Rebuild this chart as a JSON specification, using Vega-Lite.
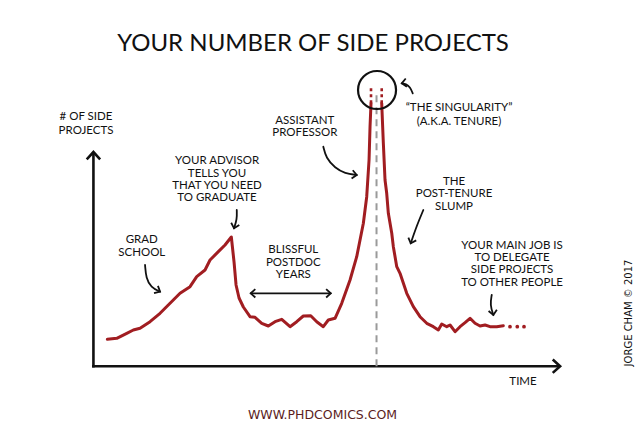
{
  "$schema": "https://vega.github.io/schema/vega-lite/v6.json",
  "width": 640,
  "height": 439,
  "autosize": {"type": "fit", "contains": "padding"},
  "padding": 0,
  "background": "white",
  "config": {"view": {"stroke": null}},
  "encoding": {
    "x": {"field": "t", "type": "quantitative", "axis": null, "scale": {"domain": [-20, 117], "nice": false, "zero": false}},
    "y": {"field": "p", "type": "quantitative", "axis": null, "scale": {"domain": [-34, 171], "nice": false, "zero": false}}
  },
  "layer": [
    {
      "data": {"values": [
        {"ax": "y", "t": 0, "p": -0.6},
        {"ax": "y", "t": 0, "p": 100},
        {"ax": "x", "t": -0.3, "p": 0},
        {"ax": "x", "t": 99.9, "p": 0}
      ]},
      "mark": {"type": "line", "color": "#111", "strokeWidth": 2.6},
      "encoding": {"detail": {"field": "ax"}}
    },
    {
      "data": {"values": [
        {"t": 0, "p": 100, "ang": 0},
        {"t": 99.9, "p": 0, "ang": 90}
      ]},
      "mark": {"type": "point", "shape": "M-1,1.1L0,0L1,1.1", "filled": false, "stroke": "#111", "strokeWidth": 2.6, "size": 180, "opacity": 1},
      "encoding": {"angle": {"field": "ang", "type": "quantitative", "scale": null}}
    },
    {
      "data": {"values": [{"t": 60.6, "p": 0, "p2": 127.6}]},
      "mark": {"type": "rule", "color": "#9a9a9a", "strokeWidth": 2, "strokeDash": [7, 5]},
      "encoding": {"y2": {"field": "p2"}}
    },
    {
      "data": {"values": [
        {"seg": "L", "t": 2.98, "p": 12.56}, {"seg": "L", "t": 4.99, "p": 13.03}, {"seg": "L", "t": 7.13, "p": 15.36},
        {"seg": "L", "t": 8.54, "p": 16.9}, {"seg": "L", "t": 9.98, "p": 17.7}, {"seg": "L", "t": 12.12, "p": 20.78},
        {"seg": "L", "t": 14.26, "p": 24.7}, {"seg": "L", "t": 16.4, "p": 29.37}, {"seg": "L", "t": 18.54, "p": 34.04},
        {"seg": "L", "t": 20.68, "p": 37.12}, {"seg": "L", "t": 22.11, "p": 41.79}, {"seg": "L", "t": 23.89, "p": 44.92},
        {"seg": "L", "t": 24.96, "p": 49.59}, {"seg": "L", "t": 26.74, "p": 53.47}, {"seg": "L", "t": 28.17, "p": 56.6},
        {"seg": "L", "t": 29.52, "p": 60.33}, {"seg": "L", "t": 30.1, "p": 48.66}, {"seg": "L", "t": 30.53, "p": 37.92},
        {"seg": "L", "t": 31.17, "p": 31.85}, {"seg": "L", "t": 32.09, "p": 27.64}, {"seg": "L", "t": 33.52, "p": 23.11},
        {"seg": "L", "t": 34.59, "p": 22.83}, {"seg": "L", "t": 36.03, "p": 20.03}, {"seg": "L", "t": 37.44, "p": 18.77},
        {"seg": "L", "t": 38.87, "p": 20.78}, {"seg": "L", "t": 40.31, "p": 21.9}, {"seg": "L", "t": 42.09, "p": 18.44},
        {"seg": "L", "t": 43.52, "p": 20.78}, {"seg": "L", "t": 44.93, "p": 23.44}, {"seg": "L", "t": 46.52, "p": 23.58},
        {"seg": "L", "t": 47.8, "p": 20.78}, {"seg": "L", "t": 49.21, "p": 18.44}, {"seg": "L", "t": 50.28, "p": 21.57},
        {"seg": "L", "t": 51.72, "p": 22.37}, {"seg": "L", "t": 53.15, "p": 29.37}, {"seg": "L", "t": 54.93, "p": 40.25},
        {"seg": "L", "t": 56.36, "p": 51.13}, {"seg": "L", "t": 57.78, "p": 66.73}, {"seg": "L", "t": 58.5, "p": 79.15},
        {"seg": "L", "t": 59.0, "p": 96.29}, {"seg": "L", "t": 59.21, "p": 111.84}, {"seg": "L", "t": 59.42, "p": 122.76},
        {"seg": "R", "t": 61.71, "p": 122.76}, {"seg": "R", "t": 62.06, "p": 104.09}, {"seg": "R", "t": 62.42, "p": 86.95},
        {"seg": "R", "t": 62.78, "p": 80.74}, {"seg": "R", "t": 63.13, "p": 71.4}, {"seg": "R", "t": 63.86, "p": 62.06},
        {"seg": "R", "t": 64.2, "p": 55.8}, {"seg": "R", "t": 64.93, "p": 46.46}, {"seg": "R", "t": 65.63, "p": 43.38},
        {"seg": "R", "t": 67.07, "p": 34.04}, {"seg": "R", "t": 68.48, "p": 27.78}, {"seg": "R", "t": 69.91, "p": 23.11},
        {"seg": "R", "t": 71.35, "p": 20.03}, {"seg": "R", "t": 72.76, "p": 18.44}, {"seg": "R", "t": 73.83, "p": 16.9},
        {"seg": "R", "t": 74.56, "p": 19.71}, {"seg": "R", "t": 75.63, "p": 18.44}, {"seg": "R", "t": 76.34, "p": 19.24},
        {"seg": "R", "t": 77.41, "p": 16.11}, {"seg": "R", "t": 78.48, "p": 18.44}, {"seg": "R", "t": 79.55, "p": 20.31},
        {"seg": "R", "t": 80.62, "p": 22.37}, {"seg": "R", "t": 81.69, "p": 20.03}, {"seg": "R", "t": 82.76, "p": 18.77},
        {"seg": "R", "t": 83.83, "p": 19.24}, {"seg": "R", "t": 84.9, "p": 18.44}, {"seg": "R", "t": 86.33, "p": 18.44},
        {"seg": "R", "t": 87.74, "p": 18.91}
      ]},
      "mark": {"type": "line", "color": "#a11d21", "strokeWidth": 3, "strokeJoin": "round", "strokeCap": "round"},
      "encoding": {"detail": {"field": "seg"}}
    },
    {
      "data": {"values": [
        {"seg": "dL", "t": 59.42, "p": 122.76}, {"seg": "dL", "t": 59.42, "p": 129.91},
        {"seg": "dR", "t": 61.71, "p": 122.76}, {"seg": "dR", "t": 61.71, "p": 129.91}
      ]},
      "mark": {"type": "line", "color": "#a11d21", "strokeWidth": 2.6, "strokeDash": [3, 3]},
      "encoding": {"detail": {"field": "seg"}}
    },
    {
      "data": {"values": [{"t": 89.17, "p": 18.44}, {"t": 90.73, "p": 18.44}, {"t": 92.17, "p": 18.44}]},
      "mark": {"type": "point", "filled": true, "color": "#a11d21", "size": 14, "opacity": 1}
    },
    {
      "data": {"values": [{"t": 60.71, "p": 128.98}]},
      "mark": {"type": "point", "shape": "circle", "filled": false, "stroke": "#111", "strokeWidth": 2.2, "size": 1444, "opacity": 1}
    },
    {
      "data": {"values": [
        {"a": "grad", "i": 0, "t": 11.05, "p": 47.26}, {"a": "grad", "i": 1, "t": 11.26, "p": 41.19}, {"a": "grad", "i": 2, "t": 12.33, "p": 36.75}, {"a": "grad", "i": 3, "t": 14.26, "p": 34.79},
        {"a": "adv", "i": 0, "t": 30.68, "p": 72.94}, {"a": "adv", "i": 1, "t": 30.74, "p": 68.74}, {"a": "adv", "i": 2, "t": 30.1, "p": 64.39},
        {"a": "post", "i": 0, "t": 33.67, "p": 34.04}, {"a": "post", "i": 1, "t": 50.8, "p": 34.04},
        {"a": "asst", "i": 0, "t": 49.21, "p": 102.5}, {"a": "asst", "i": 1, "t": 49.79, "p": 97.22}, {"a": "asst", "i": 2, "t": 51.72, "p": 92.55}, {"a": "asst", "i": 3, "t": 53.85, "p": 89.98}, {"a": "asst", "i": 4, "t": 56.36, "p": 89.28},
        {"a": "sing", "i": 0, "t": 68.35, "p": 127.43}, {"a": "sing", "i": 1, "t": 67.77, "p": 130.38}, {"a": "sing", "i": 2, "t": 66.92, "p": 131.78}, {"a": "sing", "i": 3, "t": 66.0, "p": 132.1},
        {"a": "slump", "i": 0, "t": 70.62, "p": 72.94}, {"a": "slump", "i": 1, "t": 69.27, "p": 65.93}, {"a": "slump", "i": 2, "t": 67.92, "p": 57.39},
        {"a": "job", "i": 0, "t": 85.26, "p": 33.25}, {"a": "job", "i": 1, "t": 84.9, "p": 28.58}, {"a": "job", "i": 2, "t": 85.61, "p": 23.91}
      ]},
      "mark": {"type": "line", "color": "#111", "strokeWidth": 1.8, "interpolate": "basis", "strokeCap": "round"},
      "encoding": {"detail": {"field": "a"}, "order": {"field": "i", "type": "quantitative"}}
    },
    {
      "data": {"values": [
        {"t": 14.26, "p": 34.79, "ang": 118},
        {"t": 30.1, "p": 64.39, "ang": 195},
        {"t": 33.67, "p": 34.04, "ang": 270},
        {"t": 50.8, "p": 34.04, "ang": 90},
        {"t": 56.36, "p": 89.28, "ang": 98},
        {"t": 66.0, "p": 132.1, "ang": 262},
        {"t": 67.92, "p": 57.39, "ang": 200},
        {"t": 85.61, "p": 23.91, "ang": 172}
      ]},
      "mark": {"type": "point", "shape": "M-1,1.1L0,0L1,1.1", "filled": false, "stroke": "#111", "strokeWidth": 1.8, "size": 70, "opacity": 1},
      "encoding": {"angle": {"field": "ang", "type": "quantitative", "scale": null}}
    },
    {
      "data": {"values": [{"t": 47.01, "p": 150.46, "label": "YOUR NUMBER OF SIDE PROJECTS"}]},
      "mark": {"type": "text", "font": "Lato", "fontSize": 24, "color": "#111", "align": "center", "baseline": "middle"},
      "encoding": {"text": {"field": "label"}}
    },
    {
      "data": {"values": [
        {"t": -1.59, "p": 116.37, "label": "# OF SIDE"},
        {"t": -1.59, "p": 109.6, "label": "PROJECTS"},
        {"t": 45.26, "p": 114.5, "label": "ASSISTANT"},
        {"t": 45.26, "p": 108.66, "label": "PROFESSOR"},
        {"t": 78.26, "p": 120.43, "label": "\u201cTHE SINGULARITY\u201d"},
        {"t": 78.26, "p": 114.17, "label": "(A.K.A. TENURE)"},
        {"t": 26.46, "p": 95.82, "label": "YOUR ADVISOR"},
        {"t": 26.46, "p": 89.98, "label": "TELLS YOU"},
        {"t": 26.46, "p": 84.15, "label": "THAT YOU NEED"},
        {"t": 26.46, "p": 78.31, "label": "TO GRADUATE"},
        {"t": 10.34, "p": 58.93, "label": "GRAD"},
        {"t": 10.34, "p": 52.72, "label": "SCHOOL"},
        {"t": 42.79, "p": 54.26, "label": "BLISSFUL"},
        {"t": 42.79, "p": 48.42, "label": "POSTDOC"},
        {"t": 42.79, "p": 42.59, "label": "YEARS"},
        {"t": 77.19, "p": 86.01, "label": "THE"},
        {"t": 77.19, "p": 80.27, "label": "POST-TENURE"},
        {"t": 77.19, "p": 74.53, "label": "SLUMP"},
        {"t": 89.61, "p": 56.12, "label": "YOUR MAIN JOB IS"},
        {"t": 89.61, "p": 50.42, "label": "TO DELEGATE"},
        {"t": 89.61, "p": 44.73, "label": "SIDE PROJECTS"},
        {"t": 89.61, "p": 39.03, "label": "TO OTHER PEOPLE"},
        {"t": 91.96, "p": -7.38, "label": "TIME"}
      ]},
      "mark": {"type": "text", "font": "Lato", "fontSize": 11.5, "color": "#111", "align": "center", "baseline": "middle"},
      "encoding": {"text": {"field": "label"}}
    },
    {
      "data": {"values": [{"t": 49.04, "p": -23.02, "label": "WWW.PHDCOMICS.COM"}]},
      "mark": {"type": "text", "font": "DejaVu Sans", "fontSize": 12.5, "color": "#5b1d1d", "align": "center", "baseline": "middle"},
      "encoding": {"text": {"field": "label"}}
    },
    {
      "data": {"values": [{"t": 114.65, "p": 24.84, "label": "JORGE CHAM \u00a9 2017"}]},
      "mark": {"type": "text", "font": "DejaVu Sans", "fontSize": 10, "color": "#111", "align": "center", "baseline": "middle", "angle": 270},
      "encoding": {"text": {"field": "label"}}
    }
  ]
}
